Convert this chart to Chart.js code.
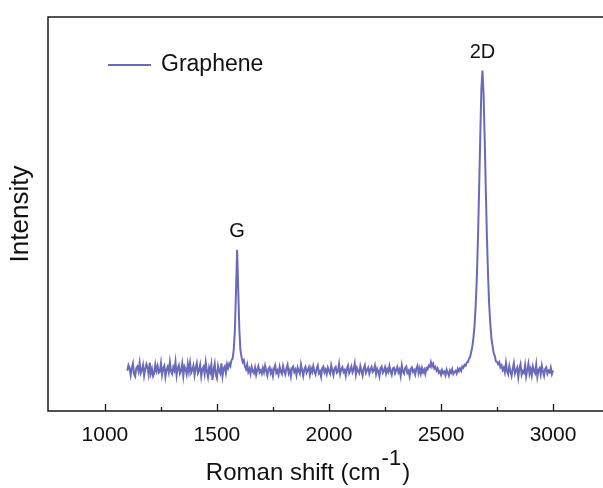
<!DOCTYPE html>
<html>
<head>
<meta charset="utf-8">
<script src="https://cdn.jsdelivr.net/npm/chart.js@4.4.1/dist/chart.umd.min.js"></script>
<style>
  html, body { margin: 0; padding: 0; background: #fff; overflow: hidden; }
</style>
</head>
<body>
<canvas id="ramanChart" width="603" height="488"></canvas>
<script>
// Raman spectrum, sampled every 5 cm-1 from 1100 to 3000
var shiftStart = 1100;
var shiftStep = 5;
var intensity = [
  // 1100 - 1195
  10.2, 11.6, 10.9, 9.1, 10.8, 12.0, 9.4, 8.8, 10.9, 11.3, 10.1, 12.2, 9.6, 10.4, 11.7, 9.0, 10.6, 11.9, 11.0, 9.3,
  // 1200 - 1295
  12.3, 9.5, 10.7, 8.9, 9.6, 11.8, 10.2, 11.4, 9.7, 10.0, 12.1, 9.2, 10.9, 11.5, 8.7, 10.5, 11.2, 9.8, 12.4, 10.1,
  // 1300 - 1395
  9.4, 11.1, 10.3, 12.5, 9.0, 10.8, 11.6, 9.5, 10.2, 12.0, 8.9, 11.3, 10.6, 9.3, 11.9, 10.0, 12.2, 9.7, 10.4, 11.5,
  // 1400 - 1495
  9.1, 10.9, 12.1, 9.6, 10.3, 11.7, 8.8, 10.6, 11.2, 9.4, 12.3, 10.1, 8.6, 11.0, 9.9, 11.8, 7.9, 10.5, 12.0, 9.2,
  // 1500 - 1595 (G band)
  8.3, 11.4, 10.2, 9.5, 12.1, 8.9, 10.8, 11.3, 9.7, 11.9, 10.9, 12.0, 11.4, 12.9, 13.3, 15.6, 20.4, 30.2, 40.9, 30.8,
  // 1600 - 1695
  20.6, 15.3, 13.6, 12.4, 12.9, 11.3, 10.6, 11.8, 9.9, 10.7, 9.4, 11.2, 10.1, 9.6, 11.0, 9.2, 10.5, 11.4, 9.8, 10.3,
  // 1700 - 1795
  9.5, 10.9, 9.8, 11.5, 10.2, 9.0, 10.7, 11.1, 9.6, 10.4, 8.9, 10.8, 11.6, 9.7, 10.3, 9.2, 11.2, 10.0, 9.4, 11.4,
  // 1800 - 1895
  10.1, 9.3, 10.8, 11.7, 9.6, 10.4, 8.8, 10.9, 11.3, 9.9, 10.5, 9.1, 11.0, 10.2, 9.5, 11.8, 10.3, 8.9, 10.6, 11.2,
  // 1900 - 1995
  9.7, 10.4, 11.1, 9.2, 10.8, 9.9, 11.4, 10.0, 9.3, 10.7, 11.5, 9.6, 10.1, 8.7, 10.9, 11.3, 9.8, 10.5, 9.4, 11.0,
  // 2000 - 2095
  10.2, 9.5, 11.6, 10.3, 9.1, 10.8, 11.2, 9.7, 10.0, 11.9, 9.4, 10.6, 11.1, 9.9, 10.4, 8.9, 10.7, 11.5, 9.6, 10.3,
  // 2100 - 2195
  11.3, 9.8, 10.5, 12.0, 9.3, 10.9, 10.1, 9.6, 11.4, 10.2, 9.0, 10.8, 11.6, 9.7, 10.4, 11.0, 9.5, 10.6, 11.2, 9.9,
  // 2200 - 2295
  10.3, 11.5, 9.4, 10.7, 10.0, 8.8, 10.9, 11.3, 9.7, 10.2, 11.1, 9.5, 10.6, 9.9, 11.4, 10.1, 9.2, 10.8, 11.0, 9.6,
  // 2300 - 2395
  10.4, 11.2, 9.8, 10.5, 8.9, 11.6, 10.0, 9.5, 10.9, 11.3, 9.7, 10.2, 8.8, 10.7, 11.1, 9.9, 10.4, 9.3, 10.8, 11.5,
  // 2400 - 2495
  9.6, 10.8, 9.5, 10.9, 9.8, 10.5, 9.4, 10.9, 10.6, 11.5, 11.2, 12.4, 11.3, 12.0, 10.8, 11.2, 10.3, 10.8, 9.7, 10.1,
  // 2500 - 2595
  9.2, 10.4, 9.6, 10.0, 9.1, 10.5, 9.8, 9.0, 10.3, 9.7, 10.6, 9.4, 9.9, 10.2, 9.5, 10.7, 10.1, 10.8, 10.2, 11.3,
  // 2600 - 2695 (2D band)
  11.0, 11.7, 11.5, 12.3, 12.4, 13.3, 13.7, 15.0, 16.4, 18.7, 22.0, 27.0, 34.0, 44.0, 56.0, 69.0, 81.5, 86.4, 80.5, 69.0,
  // 2700 - 2795
  56.0, 44.0, 34.5, 27.0, 22.2, 18.4, 16.6, 14.7, 14.0, 12.6, 12.5, 11.9, 12.4, 11.1, 11.6, 10.4, 11.0, 9.8, 12.2, 10.1,
  // 2800 - 2895
  9.3, 11.4, 10.0, 8.9, 10.7, 12.1, 9.5, 10.3, 11.0, 8.6, 10.8, 11.9, 9.2, 10.1, 9.7, 11.6, 8.8, 10.5, 12.0, 9.4,
  // 2900 - 3000
  10.6, 9.0, 11.3, 10.2, 9.6, 11.8, 8.7, 10.4, 10.9, 9.3, 11.5, 10.0, 8.9, 10.7, 11.1, 9.5, 10.2, 9.8, 11.0, 9.4,
  10.3
];
var shift = intensity.map(function (v, i) { return shiftStart + shiftStep * i; });

var xTicks = [1000, 1500, 2000, 2500, 3000];
var xMinorTicks = [1250, 1750, 2250, 2750];
var peakLabels = ['G', '2D'];
var peakShifts = [1590, 2685];

var lineColor = 'rgb(106, 106, 186)';
var fontFamily = '"Liberation Sans", Arial, sans-serif';

// frame, inward ticks, titles, legend and peak labels
const decorations = {
    id: 'decorations',
    afterDraw: function (chart) {
        var ctx = chart.ctx;
        var a = chart.chartArea;
        var x = chart.scales.x;
        var y = chart.scales.y;
        ctx.save();

        ctx.strokeStyle = '#1a1a1a';
        ctx.lineWidth = 1.5;
        ctx.beginPath();
        ctx.moveTo(chart.width, a.top);
        ctx.lineTo(a.left, a.top);
        ctx.lineTo(a.left, a.bottom);
        ctx.lineTo(chart.width, a.bottom);
        ctx.stroke();

        ctx.lineWidth = 1.3;
        ctx.beginPath();
        xTicks.forEach(function (v) {
            var px = Math.round(x.getPixelForValue(v)) + 0.5;
            ctx.moveTo(px, a.bottom);
            ctx.lineTo(px, a.bottom - 7);
        });
        xMinorTicks.forEach(function (v) {
            var px = Math.round(x.getPixelForValue(v)) + 0.5;
            ctx.moveTo(px, a.bottom);
            ctx.lineTo(px, a.bottom - 4);
        });
        ctx.stroke();

        ctx.fillStyle = '#111';
        // x title with superscript
        var main = 'Roman shift (cm';
        var sup = '-1';
        var close = ')';
        ctx.font = '24px ' + fontFamily;
        var w1 = ctx.measureText(main).width;
        var w3 = ctx.measureText(close).width;
        ctx.font = '22px ' + fontFamily;
        var w2 = ctx.measureText(sup).width;
        var tx = 307 - (w1 + w2 + w3) / 2;
        var ty = 480;
        ctx.textBaseline = 'alphabetic';
        ctx.textAlign = 'left';
        ctx.font = '24px ' + fontFamily;
        ctx.fillText(main, tx, ty);
        ctx.font = '22px ' + fontFamily;
        ctx.fillText(sup, tx + w1 + 1, ty - 15);
        ctx.font = '24px ' + fontFamily;
        ctx.fillText(close, tx + w1 + w2 + 2, ty);

        // y title
        ctx.save();
        ctx.translate(21, 214);
        ctx.rotate(-Math.PI / 2);
        ctx.textAlign = 'center';
        ctx.textBaseline = 'middle';
        ctx.font = '26px ' + fontFamily;
        ctx.fillText('Intensity', 0, 0);
        ctx.restore();

        // legend
        var ds = chart.data.datasets[0];
        ctx.strokeStyle = ds.borderColor;
        ctx.lineWidth = 1.8;
        ctx.beginPath();
        ctx.moveTo(108, 65);
        ctx.lineTo(151, 65);
        ctx.stroke();
        ctx.font = '23px ' + fontFamily;
        ctx.textAlign = 'left';
        ctx.textBaseline = 'middle';
        ctx.fillText(ds.label, 161, 65);

        // peak labels
        ctx.font = '20px ' + fontFamily;
        ctx.textAlign = 'center';
        ctx.textBaseline = 'bottom';
        peakLabels.forEach(function (t, i) {
            var idx = shift.indexOf(peakShifts[i]);
            var px = x.getPixelForValue(peakShifts[i]);
            var py = y.getPixelForValue(intensity[idx]);
            ctx.fillText(t, px, py - 8);
        });
        ctx.restore();
    }
};

const ctx = document.getElementById('ramanChart');
const chart = new Chart(ctx, {
    type: 'line',
    data: {
        labels: shift,
        datasets: [{
            label: 'Graphene',
            data: intensity,
            borderColor: lineColor,
            borderWidth: 2,
            pointRadius: 0,
            tension: 0,
            fill: false
        }]
    },
    options: {
        responsive: false,
        animation: false,
        devicePixelRatio: 1,
        layout: { padding: { left: 48, top: 17, right: 0, bottom: 0 } },
        plugins: {
            legend: { display: false },
            tooltip: { enabled: false }
        },
        scales: {
            x: {
                type: 'linear',
                min: 746,
                max: 3223,
                afterBuildTicks: function (scale) {
                    scale.ticks = xTicks.map(function (v) { return { value: v }; });
                },
                afterFit: function (scale) { scale.height = 77; },
                grid: { display: false, drawTicks: false },
                border: { display: false },
                ticks: {
                    autoSkip: false,
                    maxRotation: 0,
                    padding: 12,
                    color: '#111',
                    font: { family: fontFamily, size: 21 },
                    callback: function (v) { return String(v); }
                }
            },
            y: {
                display: false,
                min: 0,
                max: 100
            }
        }
    },
    plugins: [decorations]
});
</script>
</body>
</html>
